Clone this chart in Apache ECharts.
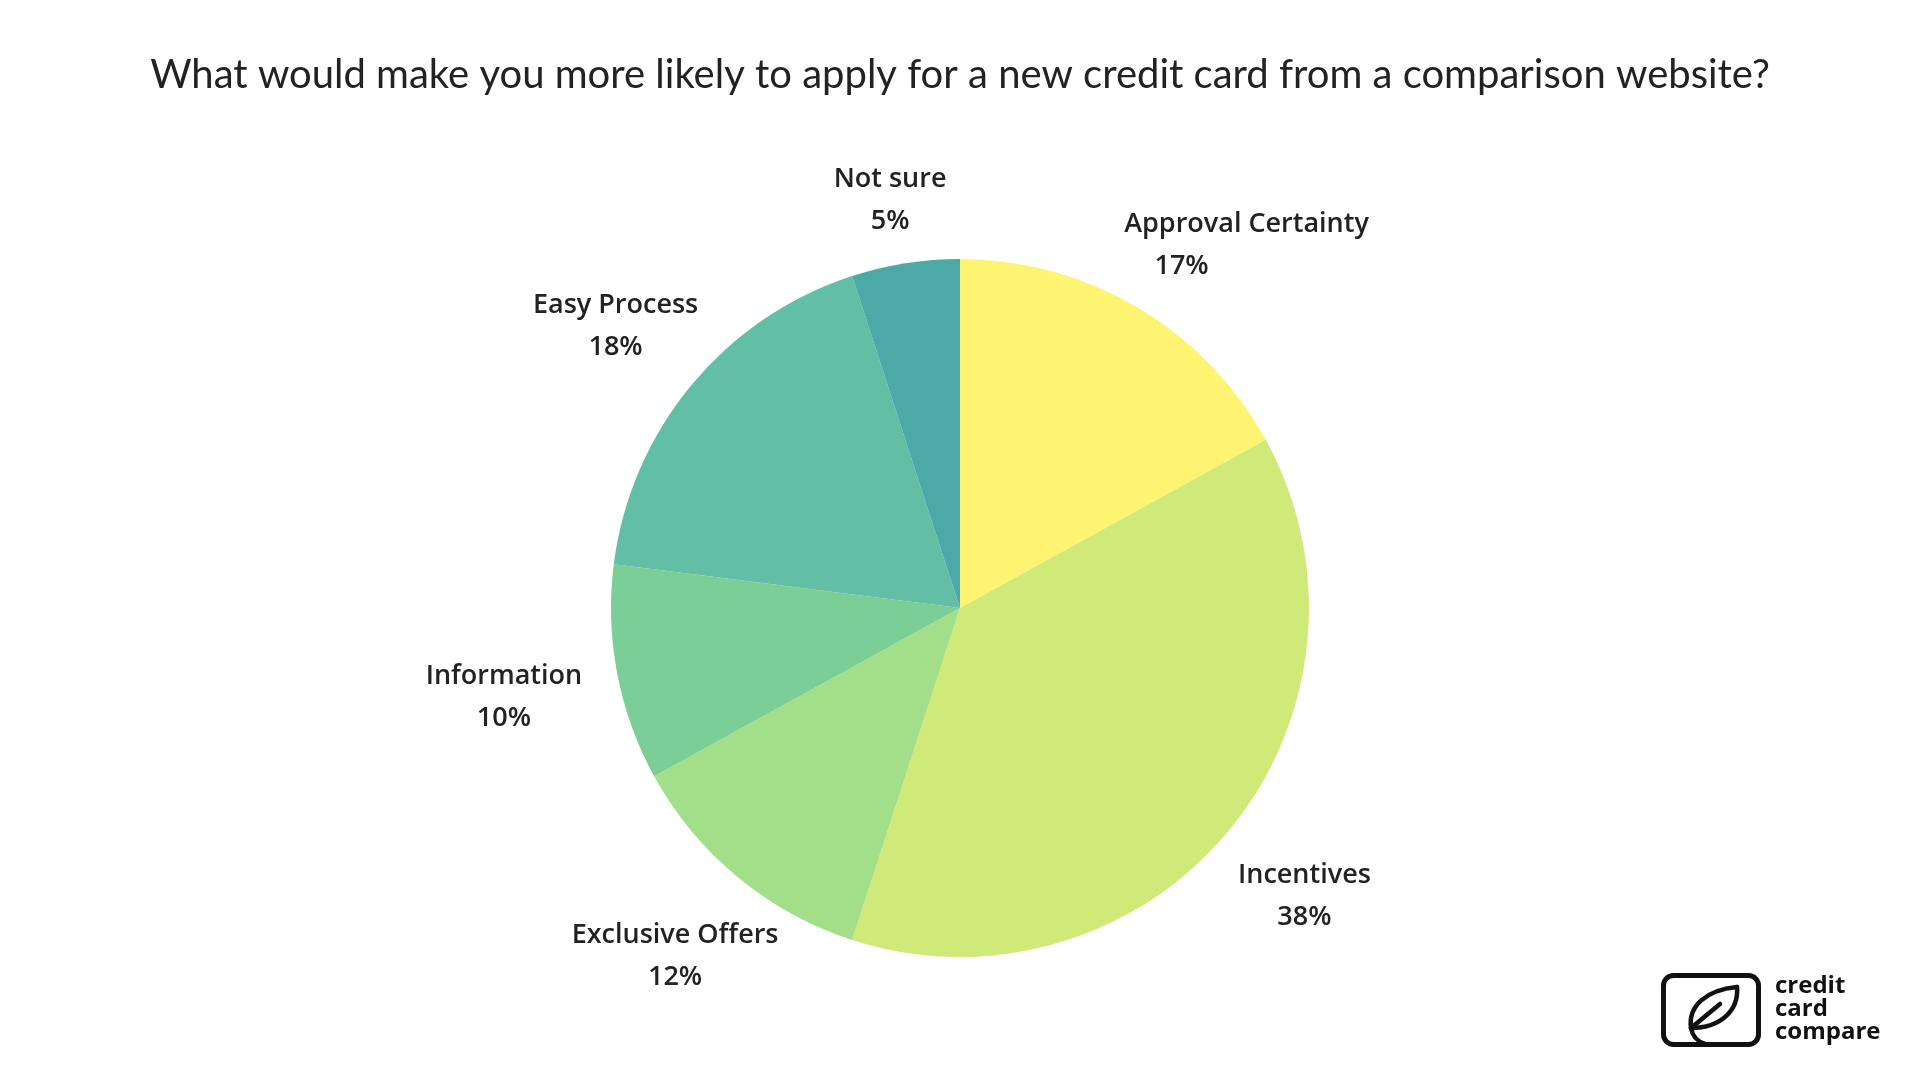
<!DOCTYPE html>
<html>
<head>
<meta charset="utf-8">
<script src="https://cdn.jsdelivr.net/npm/echarts@6/dist/echarts.min.js"></script>
<style>
html,body{margin:0;padding:0;background:#fff;}
#main{width:1920px;height:1080px;}
</style>
</head>
<body>
<div id="main"></div>
<script>
var titleText = 'What would make you more likely to apply for a new credit card from a comparison website?';
var categories = ['Approval Certainty', 'Incentives', 'Exclusive Offers', 'Information', 'Easy Process', 'Not sure'];
var values = [17, 38, 12, 10, 18, 5];
var colors = ['#FEF472', '#D0EA7A', '#A3DE89', '#7BCE95', '#62BEA4', '#4DA8A8'];

var CX = 960, CY = 608, R = 349, LR = 447;
var labelShift = [[59, 22], [0, 3], [0, 4], [-17, 6], [0, 3], [0, 34]];

var total = values.reduce(function (a, b) { return a + b; }, 0);
var mids = [];
(function () {
  var acc = 0;
  for (var i = 0; i < values.length; i++) {
    mids.push((acc + values[i] / 2) / total * Math.PI * 2);
    acc += values[i];
  }
})();

var data = categories.map(function (c, i) {
  return { name: c, value: values[i], itemStyle: { color: colors[i] } };
});

var chart = echarts.init(document.getElementById('main'), null, { renderer: 'canvas' });

var logoStroke = { fill: 'none', stroke: '#111111', lineWidth: 4.5, lineCap: 'round' };
var labelFont = { fontFamily: 'Open Sans', fontWeight: 600, fontSize: 27, color: '#222222', lineHeight: 42, align: 'center' };

chart.setOption({
  backgroundColor: '#ffffff',
  animation: false,
  title: {
    text: titleText,
    left: 'center',
    top: 50,
    textStyle: { fontFamily: 'Lato', fontWeight: 'normal', fontSize: 40, color: '#222222' }
  },
  series: [{
    type: 'pie',
    center: [CX, CY],
    radius: [0, R],
    startAngle: 90,
    clockwise: true,
    data: data,
    itemStyle: { borderWidth: 0 },
    emphasis: { disabled: true },
    labelLine: { show: false },
    label: {
      show: true,
      position: 'outside',
      formatter: function (p) {
        if (p.dataIndex === 0) return '{n|' + p.name + '}\n{p0|' + p.value + '%}';
        return '{n|' + p.name + '}\n{p|' + p.value + '%}';
      },
      rich: {
        n: labelFont,
        p: labelFont,
        p0: Object.assign({}, labelFont, { padding: [0, 130, 0, 0] })
      }
    },
    labelLayout: function (params) {
      var i = params.dataIndex;
      var a = mids[i];
      return {
        x: CX + LR * Math.sin(a) + labelShift[i][0],
        y: CY - LR * Math.cos(a) + labelShift[i][1],
        align: 'center',
        verticalAlign: 'middle'
      };
    }
  }],
  graphic: [
    {
      type: 'rect',
      shape: { x: 1663.5, y: 975.5, width: 95, height: 69, r: 10 },
      style: { fill: 'none', stroke: '#111111', lineWidth: 5 }
    },
    {
      type: 'bezierCurve',
      shape: { x1: 1691, y1: 1028, cpx1: 1688, cpy1: 1006, cpx2: 1706, cpy2: 990, x2: 1737, y2: 987 },
      style: logoStroke
    },
    {
      type: 'bezierCurve',
      shape: { x1: 1737, y1: 987, cpx1: 1739, cpy1: 1010, cpx2: 1721, cpy2: 1028, x2: 1691, y2: 1028 },
      style: logoStroke
    },
    {
      type: 'line',
      shape: { x1: 1691, y1: 1028, x2: 1720, y2: 1004 },
      style: logoStroke
    },
    {
      type: 'bezierCurve',
      shape: { x1: 1691, y1: 1028, cpx1: 1693, cpy1: 1040, x2: 1705, y2: 1044 },
      style: logoStroke
    },
    {
      type: 'text',
      left: 1775,
      top: 974,
      style: {
        text: 'credit\ncard\ncompare',
        font: 'bold 24px "Open Sans"',
        lineHeight: 23,
        fill: '#111111'
      }
    }
  ]
});
</script>
</body>
</html>
